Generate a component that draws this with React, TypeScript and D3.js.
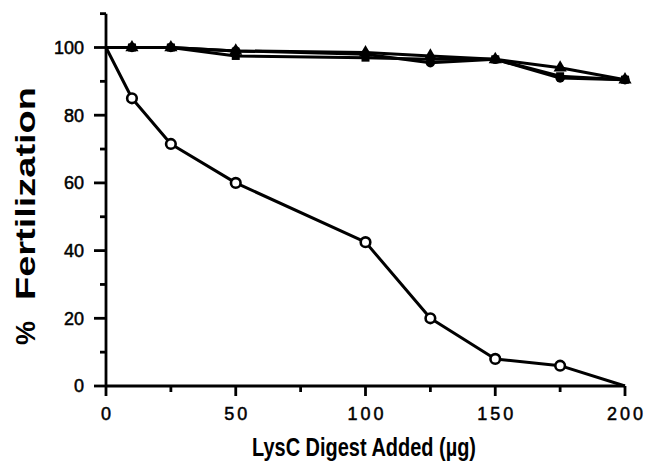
import React from "react";
import * as d3 from "d3";

const xDoses = [0, 10, 25, 50, 100, 125, 150, 175, 200];
const lysC = [100, 85, 71.5, 60, 42.5, 20, 8, 6, 0];
const controlCircle = [100, 100, 100, 99, 98, 95.5, 96.5, 91, 90.5];
const controlTriangle = [100, 100, 100, 99, 98.5, 97.5, 96.5, 94, 90.5];
const controlSquare = [100, 100, 100, 97.5, 97, 96.5, 96.5, 91.5, 90.5];
const xTicks = [0, 50, 100, 150, 200];
const xMinorTicks = [25, 75, 125, 175];
const yTicks = [0, 20, 40, 60, 80, 100];
const yMinorTicks = [10, 30, 50, 70, 90, 110];

const W = 647;
const H = 463;

export default function App() {
  const x = d3.scaleLinear().domain([0, 200]).range([106, 625]);
  const y = d3.scaleLinear().domain([0, 100]).range([386, 47.5]);
  const line = d3
    .line<number>()
    .x((_, i) => x(xDoses[i]))
    .y((d) => y(d));

  const sym = (type: d3.SymbolType, size: number) => d3.symbol().type(type).size(size)() || "";
  const font = "'Liberation Sans', Arial, Helvetica, sans-serif";

  const topSeries = [
    { data: controlSquare, shape: sym(d3.symbolSquare, 64) },
    { data: controlTriangle, shape: sym(d3.symbolTriangle, 75) },
    { data: controlCircle, shape: sym(d3.symbolCircle, 70) },
  ];

  return (
    <svg width={W} height={H} style={{ position: "absolute", left: 0, top: 0, background: "#fff" }}>
      {/* axes */}
      <g stroke="#000" strokeWidth={2.8} fill="none">
        <line x1={x(0)} x2={x(0)} y1={y(110)} y2={y(0) + 1} />
        <line x1={x(0) - 1} x2={x(200)} y1={y(0)} y2={y(0)} />
        {yTicks.map((t) => (
          <line key={"ym" + t} x1={x(0) - 12} x2={x(0)} y1={y(t)} y2={y(t)} />
        ))}
        {yMinorTicks.map((t) => (
          <line key={"yn" + t} x1={x(0) - 6} x2={x(0)} y1={y(t)} y2={y(t)} />
        ))}
        {xTicks.map((t) => (
          <line key={"xm" + t} x1={x(t)} x2={x(t)} y1={y(0)} y2={y(0) + 10} />
        ))}
        {xMinorTicks.map((t) => (
          <line key={"xn" + t} x1={x(t)} x2={x(t)} y1={y(0)} y2={y(0) + 6} />
        ))}
      </g>
      {/* tick labels */}
      <g fontFamily={font} fontSize={18} fill="#000" stroke="#000" strokeWidth={0.5}>
        {yTicks.map((t) => (
          <text key={"yl" + t} x={x(0) - 22} y={y(t)} dy="0.36em" textAnchor="end">
            {t}
          </text>
        ))}
        {xTicks.map((t) => (
          <text key={"xl" + t} x={x(t) + (t === 0 ? 0 : 1.5)} y={y(0) + 34} textAnchor="middle" letterSpacing={t === 0 ? 0 : 3}>
            {t}
          </text>
        ))}
      </g>
      {/* axis titles */}
      <text
        x={364}
        y={456}
        textAnchor="middle"
        fontFamily={font}
        fontWeight="bold"
        fontSize={25}
        textLength={224}
        lengthAdjust="spacingAndGlyphs"
      >
        LysC Digest Added (µg)
      </text>
      <text
        transform={`translate(35,300) rotate(-90)`}
        textAnchor="start"
        fontFamily={font}
        fontWeight="bold"
        fontSize={27}
        textLength={213}
        lengthAdjust="spacingAndGlyphs"
      >
        Fertilization
      </text>
      <text
        transform={`translate(35,333) rotate(-90)`}
        textAnchor="middle"
        fontFamily={font}
        fontWeight="bold"
        fontSize={27}
      >
        %
      </text>
      {/* series lines */}
      <g fill="none" stroke="#000" strokeWidth={3} strokeLinejoin="round">
        <path d={line(lysC) || ""} />
        {topSeries.map((s, i) => (
          <path key={"l" + i} d={line(s.data) || ""} />
        ))}
      </g>
      {/* top series markers */}
      {topSeries.map((s, i) => (
        <g key={"m" + i}>
          {s.data.map((v, j) =>
            j === 0 ? null : (
              <path key={j} d={s.shape} transform={`translate(${x(xDoses[j])},${y(v)})`} fill="#000" />
            )
          )}
        </g>
      ))}
      {/* open circles */}
      {lysC.map((v, j) =>
        j === 0 || j === lysC.length - 1 ? null : (
          <circle key={"o" + j} cx={x(xDoses[j])} cy={y(v)} r={4.8} fill="#fff" stroke="#000" strokeWidth={2.6} />
        )
      )}
    </svg>
  );
}
